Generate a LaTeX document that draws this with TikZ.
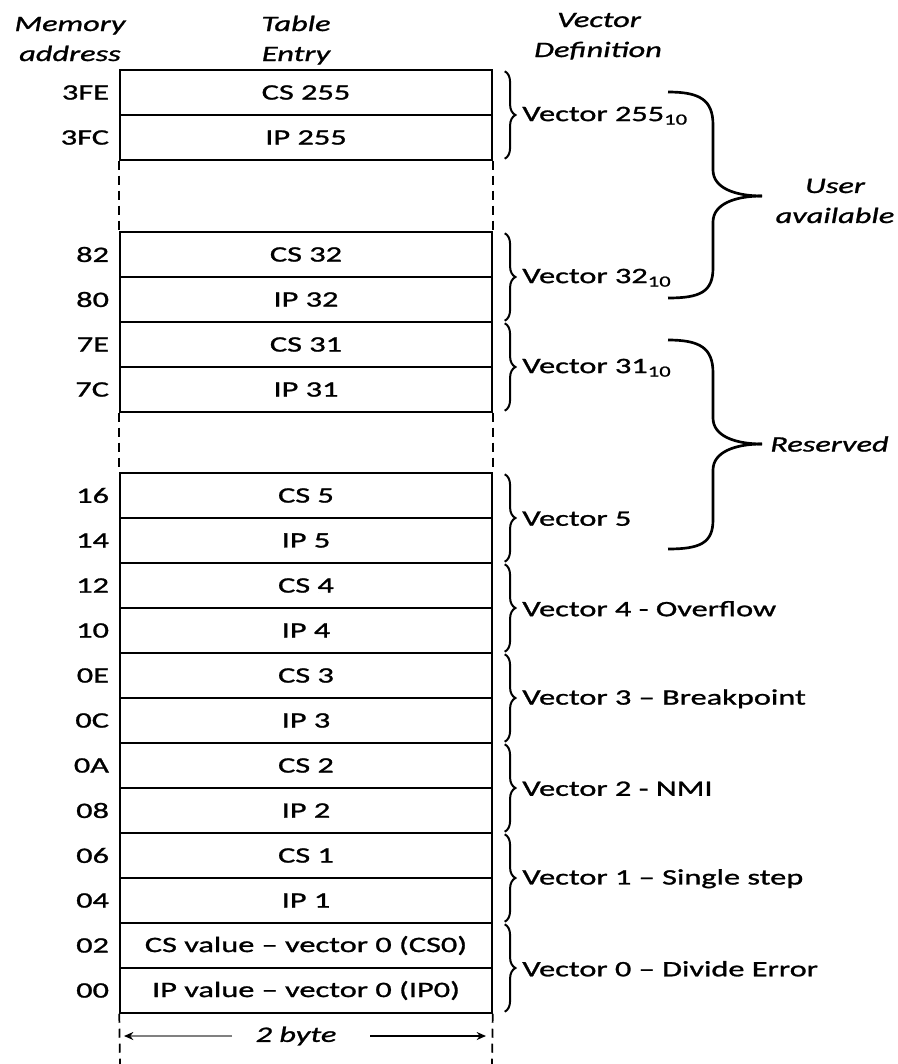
\documentclass[tikz,border=0pt]{standalone}
\usepackage{fontspec}
\setmainfont{Carlito}[FakeStretch=1.47,FakeBold=1.2]
\usetikzlibrary{decorations.pathreplacing,arrows.meta}
\begin{document}
\begin{tikzpicture}[x=0.75pt,y=-0.75pt,
  every node/.style={font=\fontsize{16.5}{22.5}\selectfont},
  cell/.style={draw,line width=1.1pt,minimum width=279pt,minimum height=33.75pt,inner sep=0pt},
  addr/.style={anchor=east,inner sep=0pt},
  hdr/.style={align=center,font=\fontsize{16.5}{22.5}\selectfont\itshape},
  hline/.style={anchor=base,inner sep=0pt,font=\fontsize{16.5}{22.5}\selectfont\itshape},
  vlab/.style={anchor=west,inner sep=0pt},
  sbrace/.style={decorate,decoration={brace,amplitude=8pt},line width=1.5pt},
  bbrace/.style={line width=2pt},
  side/.style={line width=1.3pt,dash pattern=on 6.75pt off 4.5pt}]
\useasboundingbox (0,0) rectangle (898,1064);
% headers
\node[hline] (hmem1) at (70,31) {Memory};
\node[hline] (hmem2) at (70,61) {address};
\node[hline] (htab1) at (296,31) {Table};
\node[hline] (htab2) at (296,61) {Entry};
\node[hline] (hvec1) at (599,27) {Vector};
\node[hline] (hvec2) at (598,57) {Definition};
% cells
\node[cell] (c3fe) at (306,92.5) {CS 255};
\node[cell] (c3fc) at (306,137.5) {IP 255};
\node[cell] (c82) at (306,254.5) {CS 32};
\node[cell] (c80) at (306,299.5) {IP 32};
\node[cell] (c7e) at (306,344.5) {CS 31};
\node[cell] (c7c) at (306,389.5) {IP 31};
\node[cell] (c16) at (306,495.5) {CS 5};
\node[cell] (c14) at (306,540.5) {IP 5};
\node[cell] (c12) at (306,585.5) {CS 4};
\node[cell] (c10) at (306,630.5) {IP 4};
\node[cell] (c0e) at (306,675.5) {CS 3};
\node[cell] (c0c) at (306,720.5) {IP 3};
\node[cell] (c0a) at (306,765.5) {CS 2};
\node[cell] (c08) at (306,810.5) {IP 2};
\node[cell] (c06) at (306,855.5) {CS 1};
\node[cell] (c04) at (306,900.5) {IP 1};
\node[cell] (c02) at (306,945.5) {CS value -- vector 0 (CS0)};
\node[cell] (c00) at (306,990.5) {IP value -- vector 0 (IP0)};
% addresses
\foreach \n/\t in {3fe/3FE,3fc/3FC,82/82,80/80,7e/7E,7c/7C,16/16,14/14,12/12,10/10,0e/0E,0c/0C,0a/0A,08/08,06/06,04/04,02/02,00/00}
  \node[addr] (a\n) at ([xshift=-7.5pt]c\n.west) {\t};
% dashed sides
\draw[side] (c3fc.south west) -- (c82.north west);
\draw[side] (c3fc.south east) -- (c82.north east);
\draw[side] (c7c.south west) -- (c16.north west);
\draw[side] (c7c.south east) -- (c16.north east);
\coordinate (bl) at (120,1064);
\coordinate (br) at (492,1064);
\draw[side] (c00.south west) -- (bl);
\draw[side] (c00.south east) -- (br);
% small braces and labels
\foreach \a/\b/\t in {3fe/3fc/{Vector 255\textsubscript{10}},82/80/{Vector 32\textsubscript{10}},7e/7c/{Vector 31\textsubscript{10}},16/14/{Vector 5},12/10/{Vector 4 - Overflow},0e/0c/{Vector 3 -- Breakpoint},0a/08/{Vector 2 - NMI},06/04/{Vector 1 -- Single step},02/00/{Vector 0 -- Divide Error}}{
  \draw[sbrace] ([xshift=9pt,yshift=-1.5pt]c\a.north east) -- ([xshift=9pt,yshift=1.5pt]c\b.south east);
  \node[vlab] (v\a) at ([xshift=22pt]c\a.south east) {\t};
}
% big braces
\draw[bbrace] (668,92) .. controls (700,92) and (713,100) .. (713,125) -- (713,170)
  .. controls (713,188) and (735,196) .. (762,196);
\draw[bbrace] (762,196) .. controls (735,196) and (713,204) .. (713,222) -- (713,268)
  .. controls (713,292) and (700,298) .. (668,298);
\node[hdr] (user) at (835,201) {User\\available};
\draw[bbrace] (668,340) .. controls (700,340) and (713,348) .. (713,373) -- (713,418)
  .. controls (713,436) and (735,444) .. (762,444);
\draw[bbrace] (762,444) .. controls (735,444) and (713,452) .. (713,470) -- (713,520)
  .. controls (713,543) and (700,549) .. (668,549);
\node[hdr,anchor=west,inner sep=0pt] (res) at (770,444) {Reserved};
% 2 byte arrows
\node[hdr] (bytes) at (296,1036) {2 byte};
\coordinate (la) at (232,1036);
\coordinate (lb) at (124,1036);
\coordinate (ra) at (370,1036);
\coordinate (rb) at (486,1036);
\draw[line width=1.4pt,black!50,-{Stealth[black,length=7pt,width=6pt]}] (la) -- (lb);
\draw[line width=1.1pt,-{Stealth[length=7pt,width=6pt]}] (ra) -- (rb);
\end{tikzpicture}
\end{document}
